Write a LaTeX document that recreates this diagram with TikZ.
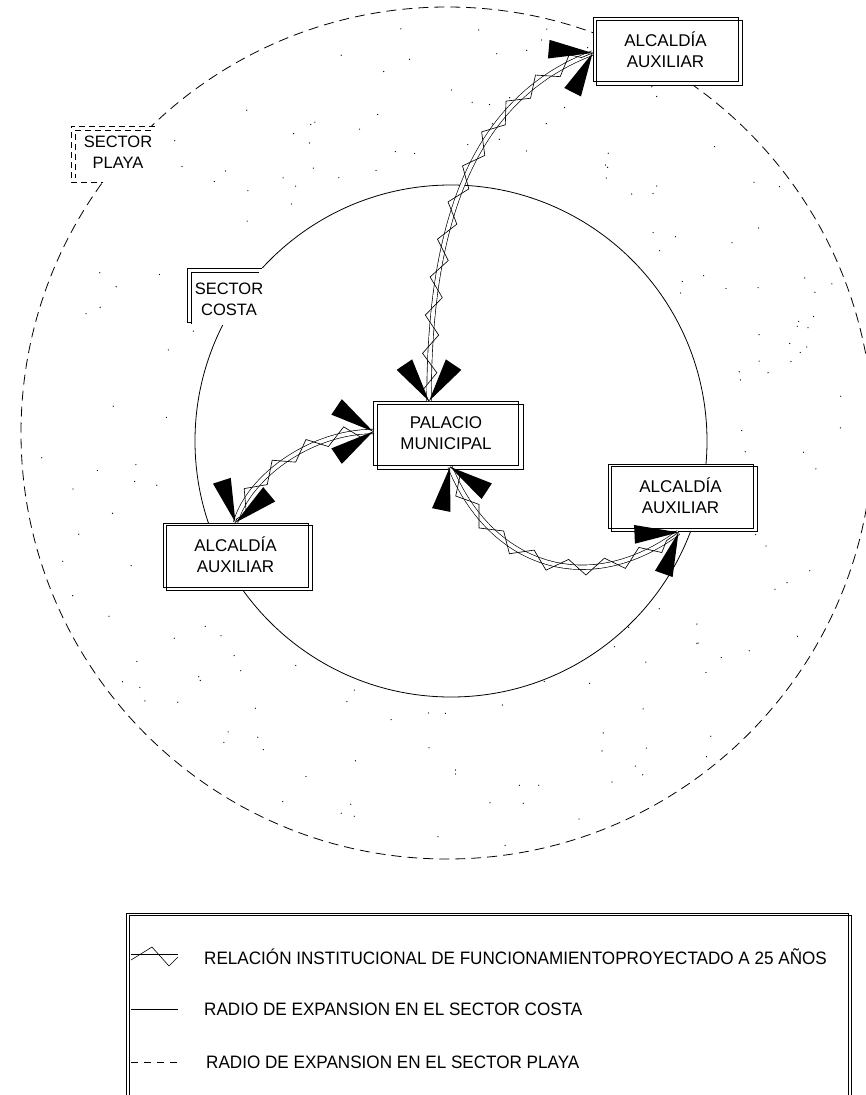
\documentclass[tikz,border=0pt]{standalone}
\usepackage{fontspec}
\setmainfont{Liberation Sans}
\usetikzlibrary{calc,decorations.pathmorphing}
\pgfdeclarelayer{back}
\pgfdeclarelayer{mid}
\pgfsetlayers{back,mid,main}
\newcommand\dshadow[1]{%
  \begin{pgfonlayer}{mid}\fill[white] (#1.north west) rectangle ($(#1.south east)+(4,3)$);\end{pgfonlayer}
  \draw[boxline] ($(#1.north west)+(4,3)$) rectangle ($(#1.south east)+(4,3)$);}
\newcommand\relcurve[1]{\draw[rel] #1; \draw[zz] #1;}
\newcommand\wedges[2]{%
  \fill (#1) -- ($(#1)+(#2+22:45)$) -- ($(#1)+(#2+46:45)$) -- cycle;
  \fill (#1) -- ($(#1)+(#2-22:45)$) -- ($(#1)+(#2-46:45)$) -- cycle;}
\begin{document}
\begin{tikzpicture}[x=1pt,y=-1pt,
  thinln/.style={line width=0.7pt},
  boxline/.style={line width=0.8pt},
  boxnode/.style={draw, line width=0.8pt, minimum width=145pt, minimum height=64pt,
     align=center, inner sep=0pt, font=\fontsize{17}{21}\selectfont},
  rel/.style={line width=0.65pt, double, double distance=3.8pt},
  zz/.style={line width=0.65pt, decorate, decoration={zigzag, segment length=38pt, amplitude=7.5pt}},
  lbl/.style={font=\fontsize{16.5}{21}\selectfont, align=center, inner sep=0pt},
  legtext/.style={font=\fontsize{18}{20}\selectfont, anchor=west, inner sep=0pt},
  playadash/.style={dash pattern=on 10pt off 6pt},
  lbldash/.style={dash pattern=on 6pt off 4pt}
]
\useasboundingbox (0,0) rectangle (865,1095);

% centres of the two expansion circles
\coordinate (C1) at (451,441);
\coordinate (C2) at (447,433);

\begin{pgfonlayer}{back}
% sand dots in the ring
\pgfmathsetseed{7}
\foreach \i in {1,...,180}{
  \pgfmathsetmacro\rr{100*sqrt(rnd*(4.18^2-2.66^2)+2.66^2)}
  \pgfmathsetmacro\aa{360*rnd}
  \fill ($(C2)+(\aa:\rr)$) circle (0.65pt);
}
% circles
\draw[line width=0.8pt] (C1) circle (256pt);
\draw[line width=0.8pt, playadash] (C2) circle (426pt);
\end{pgfonlayer}

% sector costa label
\begin{pgfonlayer}{mid}\fill[white] (187,268) rectangle (280,325);\end{pgfonlayer}
\draw[thinln] (262,268) -- (187,268) -- (187,322) -- (191,322);
\draw[thinln] (259,272) -- (191,272) -- (191,324);
\node[lbl] (costa) at (229,299) {SECTOR\\COSTA};

% sector playa label
\begin{pgfonlayer}{mid}\fill[white] (71,126) rectangle (165,182);\end{pgfonlayer}
\draw[thinln, lbldash] (155,126) -- (71,126) -- (71,182) -- (103,182);
\draw[thinln, lbldash] (151,130) -- (75,130) -- (75,178);
\node[lbl] (playa) at (118,152) {SECTOR\\PLAYA};

% boxes
\node[boxnode] (pal) at (446,433.5) {PALACIO\\MUNICIPAL};
\dshadow{pal}
\node[boxnode] (aa1) at (665.5,49.5) {ALCALDÍA\\AUXILIAR};
\dshadow{aa1}
\node[boxnode] (aa2) at (235.5,555) {ALCALDÍA\\AUXILIAR};
\dshadow{aa2}
\node[boxnode] (aa3) at (680.5,496) {ALCALDÍA\\AUXILIAR};
\dshadow{aa3}

% connector end points
\coordinate (pT) at ($(pal.north)+(-17,0)$);
\coordinate (pL) at ($(pal.west)+(0,-2)$);
\coordinate (pB) at ($(pal.south)+(4,1)$);
\coordinate (a1) at ($(aa1.west)+(0,3.5)$);
\coordinate (a2) at (aa2.north);
\coordinate (a3) at ($(aa3.south)+(-2,4)$);

\relcurve{(pT) .. controls +(0,-171) and +(-124,47) .. (a1)}
\relcurve{(pL) .. controls +(-60,0) and +(14,-48) .. (a2)}
\relcurve{(pB) .. controls +(42,101.6) and +(-88.4,65.4) .. (a3)}

\wedges{pT}{270}
\wedges{a1}{151}
\wedges{pL}{180}
\wedges{a2}{286}
\wedges{pB}{67.5}
\wedges{a3}{143.5}

% legend
\draw[boxline] (126,1100) -- (126,913) -- (848,913) -- (848,1100);
\draw[boxline] (129,1100) -- (129,915) -- (851,915) -- (851,1100);
\draw[line width=0.6pt, double, double distance=3pt] (131,956) -- (178,956);
\draw[line width=0.6pt] (131,960) -- (152,947) -- (169,966) -- (178,957);
\node[legtext] (l1) at (204,957) {\scalebox{0.95}[1]{RELACIÓN INSTITUCIONAL DE FUNCIONAMIENTOPROYECTADO A 25 AÑOS}};
\draw[line width=0.7pt] (131,1009) -- (178,1009);
\node[legtext] (l2) at (204,1009) {\scalebox{0.95}[1]{RADIO DE EXPANSION EN EL SECTOR COSTA}};
\draw[line width=0.7pt, dash pattern=on 7pt off 6pt] (131,1062) -- (178,1062);
\node[legtext] (l3) at (206,1062) {\scalebox{0.95}[1]{RADIO DE EXPANSION EN EL SECTOR PLAYA}};
\end{tikzpicture}
\end{document}
